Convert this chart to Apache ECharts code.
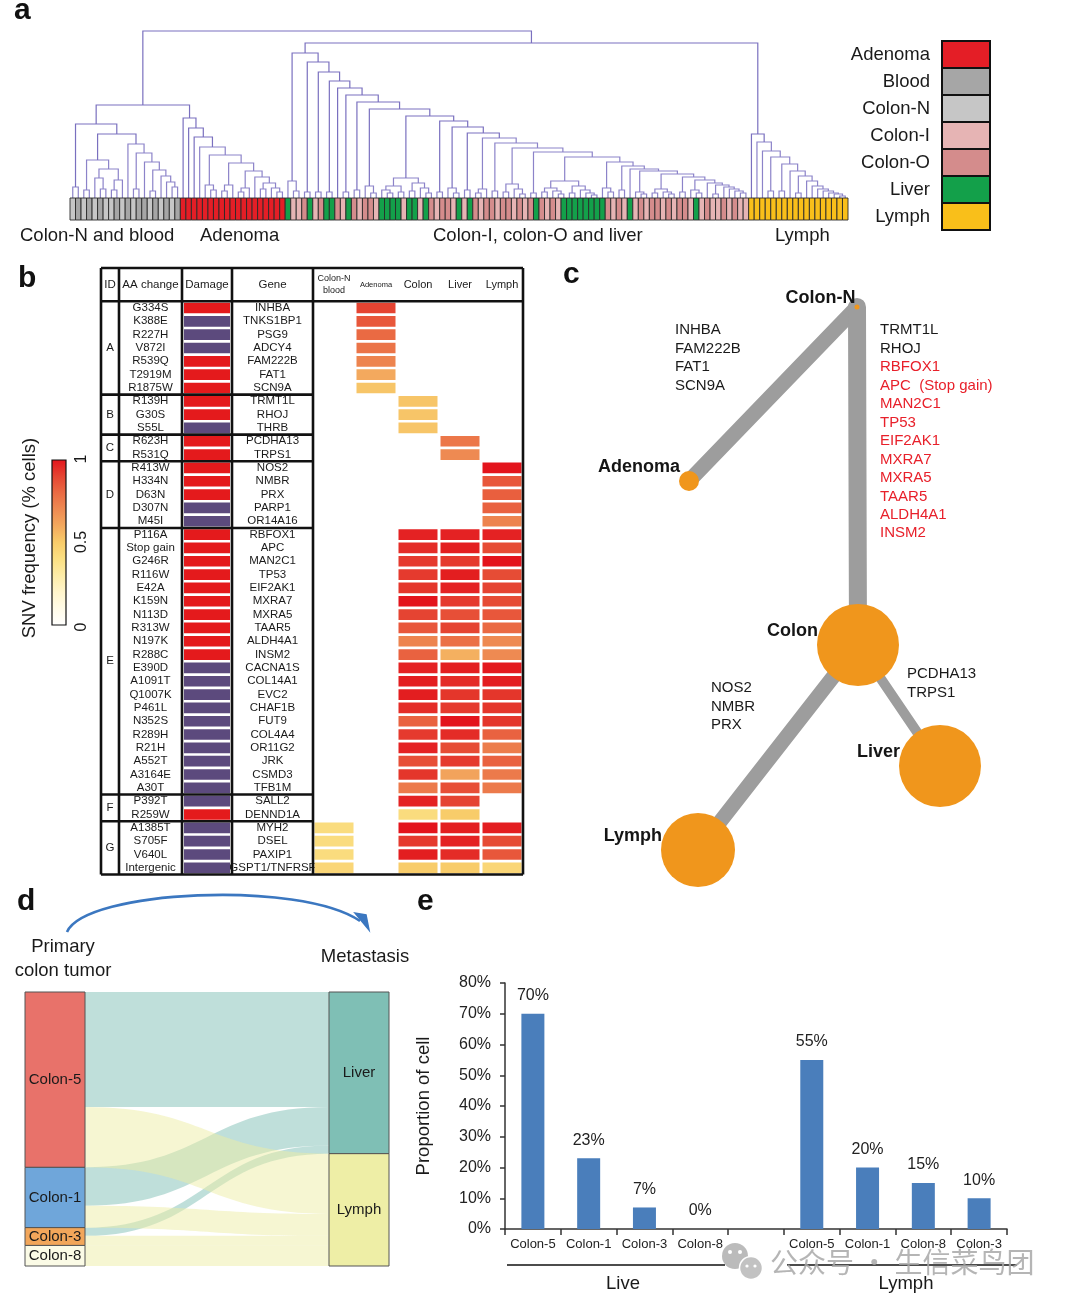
<!DOCTYPE html>
<html><head><meta charset="utf-8">
<script src="https://cdn.jsdelivr.net/npm/echarts@6/dist/echarts.min.js"></script>
<style>html,body{margin:0;padding:0;background:#fff}#c{width:1080px;height:1305px}</style>
</head><body><div id="c"></div>
<script>
const FF = '"Liberation Sans", Arial, Helvetica, sans-serif';
const _ = null;

// ---------- Panel a : sample types & dendrogram ----------
const sampleTypes = ['Adenoma','Blood','Colon-N','Colon-I','Colon-O','Liver','Lymph'];
const typeCodes   = ['A','B','N','I','O','L','Y'];
const typeColors  = ['#e41e26','#a6a6a6','#c6c6c6','#e6b4b4','#d48c8c','#13a04a','#f9bf1a'];

const nbTypes = ['N','B','N','B','N','B','N','N','B','N','B','N','B','B','N','B','N','B','N','B'];
const adTypes = ['A','A','A','A','A','A','A','A','A','A','A','A','A','A','A','A','A','A','A'];
const colonTypes = ['L','I','I','O','L','I','O','L','L','O',
  'I','L','O','I','O','O','I','L','L','L',
  'L','I','L','L','I','L','O','I','O','O',
  'I','L','I','L','O','I','O','O','I','O',
  'O','I','O','I','O','L','O','I','O','I',
  'L','L','L','L','L','L','L','L','O','I',
  'O','I','L','I','O','I','O','O','I','O',
  'I','O','O','I','L','I','O','I','I','O',
  'I','O','I','I'];
const lymphTypes = ['Y','Y','Y','Y','Y','Y','Y','Y','Y','Y','Y','Y','Y','Y','Y','Y','Y','Y'];

// merge heights: subtree = [height, left, right], leaf = 0 ; ladders = [[height, subtree], ...] + tail
const nbSubB = [38, [8,0,0], [29, [20,0,[9,0,0]], [18,[8,0,0],0]]];
const nbStepsC = [[54,0],[45,[9,0,0]],[36,0],[28,[7,0,0]],[22,0],[16,0]];
const nbTailC = [11,0,0];
const adSteps = [[80,0],[70,0],[61,0],[51,0],[43,[13,0,[8,0,0]]],[35,[13,[7,0,0],0]],[27,[10,[6,0,0],0]],[21,0],[15,[9,0,0]]];
const adTail = [10,0,[6,0,0]];
const colonSteps = [
  [145, [17,0,[7,0,0]]], [136, [6,0,0]], [126, [6,0,0]], [117, [6,0,0]], [110, 0],
  [103, [6,0,0]], [96, [8,0,0]], [89, [12,0,[5,0,0]]],
  [82, [20, [12,[8,0,[5,0,0]],[6,0,0]], [15,[7,0,0],[10,0,[5,0,0]]]]],
  [77, [6,0,0]], [71, [10,0,[5,0,0]]], [65, [8,0,0]], [60, [9,[5,0,0],0]], [55, [7,0,0]],
  [50, [14,[6,0,0],[9,0,[4,0,0]]]], [46, [5,0,0]],
  [41, [17, [10,[6,0,0],[7,0,[4,0,0]]], [12,[5,0,0],[8,0,[5,0,[3,0,0]]]]]],
  [36, [10,0,[6,0,0]]], [32, [8,0,0]], [29, 0], [27, [6,0,[4,0,0]]],
  [24, [9,[5,0,0],[6,0,[4,0,0]]]], [21, [6,0,0]], [18, [8,0,[5,0,0]]],
  [15, 0], [13, [4,0,0]], [11, 0], [9, 0], [7, 0]
];
const colonTail = [5,0,0];
const lymphSteps = [[64,0],[56,0],[47,0],[41,[7,0,0]],[34,[7,0,0]],[27,0],[22,[5,0,0]],[17,0],[12,0],[9,0],[7,0],[5,0],[4,0]];
const lymphTail = [2,0,0];
const nbTopH = 74, nbMidH = 64, nbPairH = 11;
const leftJoinH = 93, rightJoinH = 155, rootH = 167;

// ---------- Panel b : mutation table ----------
const groupIds = ['A','B','C','D','E','F','G'];
const groupSizes = [7,3,2,5,20,2,4];
const aaChanges = ['G334S','K388E','R227H','V872I','R539Q','T2919M','R1875W',
  'R139H','G30S','S55L','R623H','R531Q',
  'R413W','H334N','D63N','D307N','M45I',
  'P116A','Stop gain','G246R','R116W','E42A','K159N','N113D','R313W','N197K','R288C',
  'E390D','A1091T','Q1007K','P461L','N352S','R289H','R21H','A552T','A3164E','A30T',
  'P392T','R259W','A1385T','S705F','V640L','Intergenic'];
const genes = ['INHBA','TNKS1BP1','PSG9','ADCY4','FAM222B','FAT1','SCN9A',
  'TRMT1L','RHOJ','THRB','PCDHA13','TRPS1',
  'NOS2','NMBR','PRX','PARP1','OR14A16',
  'RBFOX1','APC','MAN2C1','TP53','EIF2AK1','MXRA7','MXRA5','TAAR5','ALDH4A1','INSM2',
  'CACNA1S','COL14A1','EVC2','CHAF1B','FUT9','COL4A4','OR11G2','JRK','CSMD3','TFB1M',
  'SALL2','DENND1A','MYH2','DSEL','PAXIP1','GSPT1/TNFRSF'];
const damageFlags = [1,0,0,0,1,1,1, 1,1,0, 1,1, 1,1,1,0,0,
  1,1,1,1,1,1,1,1,1,1, 0,0,0,0,0,0,0,0,0,0, 0,1, 0,0,0,0];
const headerLabels = ['ID','AA change','Damage','Gene','Colon-N\nblood','Adenoma','Colon','Liver','Lymph'];
const freqColonNBlood = [_,_,_,_,_,_,_, _,_,_, _,_, _,_,_,_,_,
  _,_,_,_,_,_,_,_,_,_, _,_,_,_,_,_,_,_,_,_, _,_, 0.42,0.42,0.42,0.45];
const freqAdenoma = [0.9,0.85,0.8,0.77,0.72,0.6,0.52, _,_,_, _,_, _,_,_,_,_,
  _,_,_,_,_,_,_,_,_,_, _,_,_,_,_,_,_,_,_,_, _,_, _,_,_,_];
const freqColon = [_,_,_,_,_,_,_, 0.52,0.52,0.52, _,_, _,_,_,_,_,
  0.97,0.95,0.92,0.92,0.93,1.0,0.9,0.85,0.72,0.82,
  0.97,0.98,0.98,0.95,0.82,0.92,0.97,0.87,0.93,0.75,
  0.97,0.42, 1.0,0.92,0.98,0.5];
const freqLiver = [_,_,_,_,_,_,_, _,_,_, 0.76,0.7, _,_,_,_,_,
  0.97,0.98,0.92,0.98,0.97,0.92,0.87,0.9,0.78,0.58,
  0.98,0.95,0.93,0.92,1.0,0.95,0.88,0.92,0.62,0.87,
  0.9,0.5, 0.98,0.97,0.95,0.5];
const freqLymph = [_,_,_,_,_,_,_, _,_,_, _,_, 1.0,0.85,0.83,0.82,0.72,
  0.97,0.88,1.0,0.88,0.9,0.88,0.85,0.8,0.7,0.7,
  0.99,0.98,0.93,0.93,0.93,0.82,0.74,0.82,0.75,0.75,
  _,_, 0.98,0.88,0.85,0.45];
const freqColorStops = ['#ffffff','#fffbe8','#fff5cc','#fdeca8','#fbe083','#f8cc6a','#f3a95e','#ee8a52','#ea6a43','#e54432','#e3141c'];
const colorbarTicks = ['0','0.5','1'];

// ---------- Panel c : phylogenetic tree ----------
const treeNodes = ['Colon-N','Adenoma','Colon','Liver','Lymph'];
const treeNodeX = [297,129,298,380,138];
const treeNodeY = [37,211,375,496,580];
const treeNodeSize = [5,20,82,82,74];
const treeLinkSource = ['Colon-N','Colon-N','Colon','Colon'];
const treeLinkTarget = ['Adenoma','Colon','Liver','Lymph'];
const treeLinkWidth = [15,18,10,15];
const genesAdenoma = ['INHBA','FAM222B','FAT1','SCN9A'];
const genesColonBlack = ['TRMT1L','RHOJ'];
const genesColonRed = ['RBFOX1','APC  (Stop gain)','MAN2C1','TP53','EIF2AK1','MXRA7','MXRA5','TAAR5','ALDH4A1','INSM2'];
const genesLymph = ['NOS2','NMBR','PRX'];
const genesLiver = ['PCDHA13','TRPS1'];

// ---------- Panel d : sankey ----------
const sankeyNodes = ['Colon-5','Colon-1','Colon-3','Colon-8','Liver','Lymph'];
const sankeyColors = ['#e8726a','#6fa6da','#f2a65a','#fbfbe6','#7fbfb5','#eeeea6'];
const flowSource = ['Colon-5','Colon-1','Colon-3','Colon-5','Colon-1','Colon-3','Colon-8'];
const flowTarget = ['Liver','Liver','Liver','Lymph','Lymph','Lymph','Lymph'];
const flowValue  = [42,14,3,22,8,3.5,7.5];

// ---------- Panel e : bars ----------
const barCategories = ['Colon-5','Colon-1','Colon-3','Colon-8','','Colon-5','Colon-1','Colon-8','Colon-3'];
const barValues = [70,23,7,0,_,55,20,15,10];
const barGroups = ['Live','Lymph'];

// ================= build =================
function ladder(steps, tail) {
  let n = tail;
  for (let i = steps.length - 1; i >= 0; i--) { n = [steps[i][0], steps[i][1], n]; }
  return n;
}
const nbTree = [nbTopH, [nbPairH, 0, 0], [nbMidH, nbSubB, ladder(nbStepsC, nbTailC)]];
const adTree = ladder(adSteps, adTail);
const colonTree = ladder(colonSteps, colonTail);
const lymphTree = ladder(lymphSteps, lymphTail);
const fullTree = [rootH, [leftJoinH, nbTree, adTree], [rightJoinH, colonTree, lymphTree]];

const dendroSegs = [];
let leafCount = 0;
function walkTree(n) {
  if (n === 0) { const x = leafCount; leafCount += 1; return {x: x, h: 0}; }
  const a = walkTree(n[1]);
  const b = walkTree(n[2]);
  dendroSegs.push([a.x, a.h, b.x, b.h, n[0]]);
  return {x: (a.x + b.x) / 2, h: n[0]};
}
walkTree(fullTree);
const leafTypes = nbTypes.concat(adTypes, colonTypes, lymphTypes);
const leafData = leafTypes.map(function (t, i) { return [i, typeCodes.indexOf(t)]; });
const NL = leafTypes.length;

const tableEdges = [0,18,81,131,212,254,296,338,380,422];
const nRows = aaChanges.length;
const groups = [];
(function () { let s = 0; groupSizes.forEach(function (g, i) { groups.push([s, s + g, i]); s += g; }); })();
const freqCols = [freqColonNBlood, freqAdenoma, freqColon, freqLiver, freqLymph];
const freqData = [];
freqCols.forEach(function (col, c) { col.forEach(function (v, r) { if (v !== null) freqData.push([c, r, v]); }); });

function txt(x, y, text, size, opt) {
  opt = opt || {};
  const el = {type: 'text', x: x, y: y, silent: true,
    style: Object.assign({text: text, font: size + 'px ' + FF, fill: '#1a1a1a', textAlign: 'left', textVerticalAlign: 'middle'}, opt.style || {})};
  if (opt.rotation) el.rotation = opt.rotation;
  return el;
}
const BOLD30 = {style: {font: 'bold 30px ' + FF, fill: '#111'}};

const chart = echarts.init(document.getElementById('c'), null, {renderer: 'canvas'});

const graphic = [
  txt(14, 11, 'a', 30, BOLD30),
  txt(18, 279, 'b', 30, BOLD30),
  txt(563, 275, 'c', 30, BOLD30),
  txt(17, 902, 'd', 30, BOLD30),
  txt(417, 902, 'e', 30, BOLD30),
  txt(20, 236, 'Colon-N and blood', 18.5),
  txt(200, 236, 'Adenoma', 18.5),
  txt(433, 236, 'Colon-I, colon-O and liver', 18.5),
  txt(775, 236, 'Lymph', 18.5),
  {type: 'rect', shape: {x: 52, y: 460, width: 14, height: 165}, silent: true,
   style: {fill: new echarts.graphic.LinearGradient(0, 0, 0, 1,
     freqColorStops.slice().reverse().map(function (c, i, a) { return {offset: i / (a.length - 1), color: c}; })),
     stroke: '#111', lineWidth: 1.2}},
  txt(30, 538, 'SNV frequency (% cells)', 18.5, {rotation: Math.PI / 2, style: {textAlign: 'center'}}),
  txt(82, 627, colorbarTicks[0], 16, {rotation: Math.PI / 2, style: {textAlign: 'center'}}),
  txt(82, 542, colorbarTicks[1], 16, {rotation: Math.PI / 2, style: {textAlign: 'center'}}),
  txt(82, 459, colorbarTicks[2], 16, {rotation: Math.PI / 2, style: {textAlign: 'center'}}),
  txt(675, 321, genesAdenoma.join('\n'), 15, {style: {textVerticalAlign: 'top', lineHeight: 18.5}}),
  txt(880, 321, genesColonBlack.join('\n'), 15, {style: {textVerticalAlign: 'top', lineHeight: 18.45}}),
  txt(880, 358, genesColonRed.join('\n'), 15, {style: {textVerticalAlign: 'top', lineHeight: 18.45, fill: '#e8202a'}}),
  txt(711, 679, genesLymph.join('\n'), 15, {style: {textVerticalAlign: 'top', lineHeight: 18.5}}),
  txt(907, 665, genesLiver.join('\n'), 15, {style: {textVerticalAlign: 'top', lineHeight: 18.5}}),
  txt(63, 947, 'Primary', 18.5, {style: {textAlign: 'center'}}),
  txt(63, 971, 'colon tumor', 18.5, {style: {textAlign: 'center'}}),
  txt(365, 957, 'Metastasis', 18.5, {style: {textAlign: 'center'}}),
  {type: 'bezierCurve', silent: true, shape: {x1: 67, y1: 932, cpx1: 85, cpy1: 890, cpx2: 300, cpy2: 880, x2: 360, y2: 921},
   style: {stroke: '#3b77c0', lineWidth: 2.6, fill: null}},
  {type: 'polygon', silent: true, shape: {points: [[355, 913], [369, 930], [366, 915]]},
   style: {fill: '#3b77c0', stroke: '#3b77c0', lineWidth: 1.5}},
  {type: 'line', silent: true, shape: {x1: 507, y1: 1265, x2: 725, y2: 1265}, style: {stroke: '#111', lineWidth: 1.6}},
  {type: 'line', silent: true, shape: {x1: 787, y1: 1265, x2: 1017, y2: 1265}, style: {stroke: '#111', lineWidth: 1.6}},
  txt(623, 1284, barGroups[0], 18.5, {style: {textAlign: 'center'}}),
  txt(906, 1284, barGroups[1], 18.5, {style: {textAlign: 'center'}}),
  {type: 'circle', silent: true, shape: {cx: 735, cy: 1256, r: 13}, style: {fill: '#b4b4b4', opacity: 0.9}},
  {type: 'circle', silent: true, shape: {cx: 751, cy: 1268, r: 11.5}, style: {fill: '#c2c2c2', stroke: '#fff', lineWidth: 1.5}},
  {type: 'circle', silent: true, shape: {cx: 730, cy: 1252, r: 2}, style: {fill: '#fff'}},
  {type: 'circle', silent: true, shape: {cx: 740, cy: 1252, r: 2}, style: {fill: '#fff'}},
  {type: 'circle', silent: true, shape: {cx: 747, cy: 1266, r: 1.6}, style: {fill: '#fff'}},
  {type: 'circle', silent: true, shape: {cx: 755, cy: 1266, r: 1.6}, style: {fill: '#fff'}},
  txt(770, 1262, '公众号 · 生信菜鸟团', 28, {style: {font: '28px "Noto Sans CJK SC", sans-serif', fill: '#a8a8a8', opacity: 0.85}})
];

function hiddenVal(gi, min, max, inverse) {
  return {gridIndex: gi, type: 'value', min: min, max: max, inverse: !!inverse, show: false};
}

const option = {
  animation: false,
  textStyle: {fontFamily: FF},
  grid: [
    {left: 70, top: 30, width: 778, height: 168},
    {left: 70, top: 198, width: 778, height: 22},
    {left: 942, top: 41, width: 48, height: 189},
    {left: 101, top: 268, width: 422, height: 606.5},
    {left: 560, top: 270, width: 460, height: 610},
    {left: 505, top: 983, width: 502, height: 246}
  ],
  xAxis: [
    hiddenVal(0, -0.5, NL - 0.5),
    hiddenVal(1, -0.5, NL - 0.5),
    {gridIndex: 2, type: 'category', data: ['k'], show: false},
    hiddenVal(3, 0, 422),
    hiddenVal(4, 0, 460),
    {gridIndex: 5, type: 'category', data: barCategories,
     axisLine: {lineStyle: {color: '#333', width: 1.5}},
     axisTick: {show: true, interval: 0, length: 6, lineStyle: {color: '#333', width: 1.5}},
     axisLabel: {interval: 0, fontSize: 13, color: '#222', margin: 9, fontFamily: FF}}
  ],
  yAxis: [
    hiddenVal(0, 0, 168),
    hiddenVal(1, 0, 1),
    {gridIndex: 2, type: 'category', data: sampleTypes, inverse: true,
     axisLine: {show: false}, axisTick: {show: false},
     axisLabel: {fontSize: 18.5, color: '#1a1a1a', margin: 12, fontFamily: FF}},
    hiddenVal(3, -2.5, 43, true),
    hiddenVal(4, 0, 610, true),
    {gridIndex: 5, type: 'value', min: 0, max: 80, interval: 10,
     axisLine: {show: true, lineStyle: {color: '#333', width: 1.5}},
     axisTick: {show: true, length: 5, lineStyle: {color: '#333', width: 1.5}},
     splitLine: {show: false},
     axisLabel: {formatter: '{value}%', fontSize: 16, color: '#222', margin: 14, fontFamily: FF},
     name: 'Proportion of cell', nameLocation: 'middle', nameGap: 72,
     nameTextStyle: {fontSize: 18.5, color: '#1a1a1a', fontFamily: FF}}
  ],
  visualMap: [{type: 'continuous', show: false, min: 0, max: 1, dimension: 2, seriesIndex: 6,
    inRange: {color: freqColorStops}}],
  graphic: graphic,
  series: [
    {type: 'custom', xAxisIndex: 0, yAxisIndex: 0, silent: true, data: dendroSegs, encode: {x: [0, 2], y: [1, 3, 4]},
     renderItem: function (params, api) {
       const x1 = api.value(0), h1 = api.value(1), x2 = api.value(2), h2 = api.value(3), h = api.value(4);
       return {type: 'polyline',
         shape: {points: [api.coord([x1, h1]), api.coord([x1, h]), api.coord([x2, h]), api.coord([x2, h2])]},
         style: {stroke: h > 60 ? '#7a70bf' : '#8c83c9', lineWidth: 1.2, fill: null}};
     }},
    {type: 'custom', xAxisIndex: 1, yAxisIndex: 1, silent: true, data: leafData, encode: {x: 0, y: 1},
     renderItem: function (params, api) {
       const i = api.value(0), t = api.value(1);
       const p0 = api.coord([i - 0.5, 1]), p1 = api.coord([i + 0.5, 0]);
       return {type: 'rect', shape: {x: p0[0], y: p0[1], width: p1[0] - p0[0], height: p1[1] - p0[1]},
         style: {fill: typeColors[t], stroke: '#2a2a2a', lineWidth: 0.9}};
     }},
    {type: 'custom', xAxisIndex: 2, yAxisIndex: 2, silent: true,
     data: sampleTypes.map(function (t, i) { return [0, i]; }),
     renderItem: function (params, api) {
       const c = api.coord([0, api.value(1)]), s = api.size([1, 1]);
       return {type: 'rect', shape: {x: c[0] - s[0] / 2, y: c[1] - s[1] / 2, width: s[0], height: s[1]},
         style: {fill: typeColors[api.value(1)], stroke: '#111', lineWidth: 2}};
     }},
    {type: 'custom', xAxisIndex: 3, yAxisIndex: 3, silent: true,
     data: headerLabels.map(function (h, i) { return [i, -1]; }), encode: {x: 0, y: 1},
     renderItem: function (params, api) {
       const i = api.value(0);
       const p = api.coord([(tableEdges[i] + tableEdges[i + 1]) / 2, -1.25]);
       const size = i === 4 ? 9 : (i === 5 ? 7.5 : (i > 5 ? 11 : 11.5));
       return {type: 'text', x: p[0], y: p[1], style: {text: headerLabels[i], font: size + 'px ' + FF, fill: '#1a1a1a',
         textAlign: 'center', textVerticalAlign: 'middle', lineHeight: 12}};
     }},
    {type: 'custom', xAxisIndex: 3, yAxisIndex: 3, silent: true,
     data: aaChanges.map(function (a, i) { return [0, i]; }), encode: {x: 0, y: 1},
     renderItem: function (params, api) {
       const r = api.value(1);
       const pa = api.coord([(tableEdges[1] + tableEdges[2]) / 2, r + 0.5]);
       const pg = api.coord([(tableEdges[3] + tableEdges[4]) / 2, r + 0.5]);
       const st = {font: '11.5px ' + FF, fill: '#1a1a1a', textAlign: 'center', textVerticalAlign: 'middle'};
       return {type: 'group', children: [
         {type: 'text', x: pa[0], y: pa[1], style: Object.assign({text: aaChanges[r]}, st)},
         {type: 'text', x: pg[0], y: pg[1], style: Object.assign({text: genes[r]}, st)}]};
     }},
    {type: 'custom', xAxisIndex: 3, yAxisIndex: 3, silent: true,
     data: damageFlags.map(function (d, i) { return [0, i, d]; }), encode: {x: 0, y: 1},
     renderItem: function (params, api) {
       const r = api.value(1);
       const p0 = api.coord([tableEdges[2] + 2, r + 0.1]), p1 = api.coord([tableEdges[3] - 2, r + 0.9]);
       return {type: 'rect', shape: {x: p0[0], y: p0[1], width: p1[0] - p0[0], height: p1[1] - p0[1]},
         style: {fill: api.value(2) ? '#e41a1c' : '#5c4a7d'}};
     }},
    {type: 'custom', xAxisIndex: 3, yAxisIndex: 3, silent: true, data: freqData, encode: {x: 0, y: 1},
     renderItem: function (params, api) {
       const c = api.value(0), r = api.value(1);
       const p0 = api.coord([tableEdges[4 + c] + 1.5, r + 0.1]), p1 = api.coord([tableEdges[5 + c] - 1.5, r + 0.9]);
       return {type: 'rect', shape: {x: p0[0], y: p0[1], width: p1[0] - p0[0], height: p1[1] - p0[1]},
         style: {fill: api.visual('color')}};
     }},
    {type: 'custom', xAxisIndex: 3, yAxisIndex: 3, silent: true, data: groups, encode: {y: [0, 1]},
     renderItem: function (params, api) {
       const s = api.value(0), e = api.value(1), g = api.value(2);
       function ln(x1, y1, x2, y2) {
         const a = api.coord([x1, y1]), b = api.coord([x2, y2]);
         return {type: 'line', shape: {x1: a[0], y1: a[1], x2: b[0], y2: b[1]}, style: {stroke: '#111', lineWidth: 2.6}};
       }
       const m = api.coord([(tableEdges[0] + tableEdges[1]) / 2, (s + e) / 2]);
       const ch = [{type: 'text', x: m[0], y: m[1], style: {text: groupIds[g], font: '11.5px ' + FF, fill: '#1a1a1a',
         textAlign: 'center', textVerticalAlign: 'middle'}}];
       ch.push(ln(0, e, e === nRows ? 422 : 212, e));
       if (params.dataIndex === 0) {
         ch.push(ln(0, -2.5, 422, -2.5));
         ch.push(ln(0, 0, 422, 0));
         [0, 18, 81, 131, 212, 422].forEach(function (x) { ch.push(ln(x, -2.5, x, nRows)); });
       }
       return {type: 'group', children: ch};
     }},
    {type: 'graph', coordinateSystem: 'cartesian2d', xAxisIndex: 4, yAxisIndex: 4, silent: true,
     data: treeNodes.map(function (n, i) {
       return {name: n, value: [treeNodeX[i], treeNodeY[i]], symbol: 'circle', symbolSize: treeNodeSize[i],
         itemStyle: {color: '#f0961c'},
         label: {show: true, position: 'left', distance: 0, offset: i === 0 ? [1, -9] : [1, -14],
           fontSize: 18, fontWeight: 'bold', color: '#151515', fontFamily: FF}};
     }),
     links: treeLinkSource.map(function (s, i) {
       return {source: s, target: treeLinkTarget[i],
         lineStyle: {width: treeLinkWidth[i], color: '#9d9d9d', opacity: 1, cap: 'round', curveness: 0}};
     })},
    {type: 'sankey', left: 25, top: 992, width: 364, height: 274, nodeWidth: 60, nodeGap: 0, layoutIterations: 0,
     draggable: false, silent: true, emphasis: {disabled: true},
     data: sankeyNodes.map(function (n, i) {
       return {name: n, itemStyle: {color: sankeyColors[i], borderColor: '#555', borderWidth: 1}};
     }),
     links: flowSource.map(function (s, i) { return {source: s, target: flowTarget[i], value: flowValue[i]}; }),
     lineStyle: {color: 'target', opacity: 0.5, curveness: 0.5},
     label: {position: 'inside', fontSize: 15, color: '#1a1a1a', fontFamily: FF}},
    {type: 'bar', xAxisIndex: 5, yAxisIndex: 5, data: barValues, barWidth: 23, silent: true,
     itemStyle: {color: '#4a7ebb'},
     label: {show: true, position: 'top', distance: 10, formatter: function (p) { return p.value + '%'; },
       fontSize: 16, color: '#222', fontFamily: FF}}
  ]
};
chart.setOption(option);
</script></body></html>
